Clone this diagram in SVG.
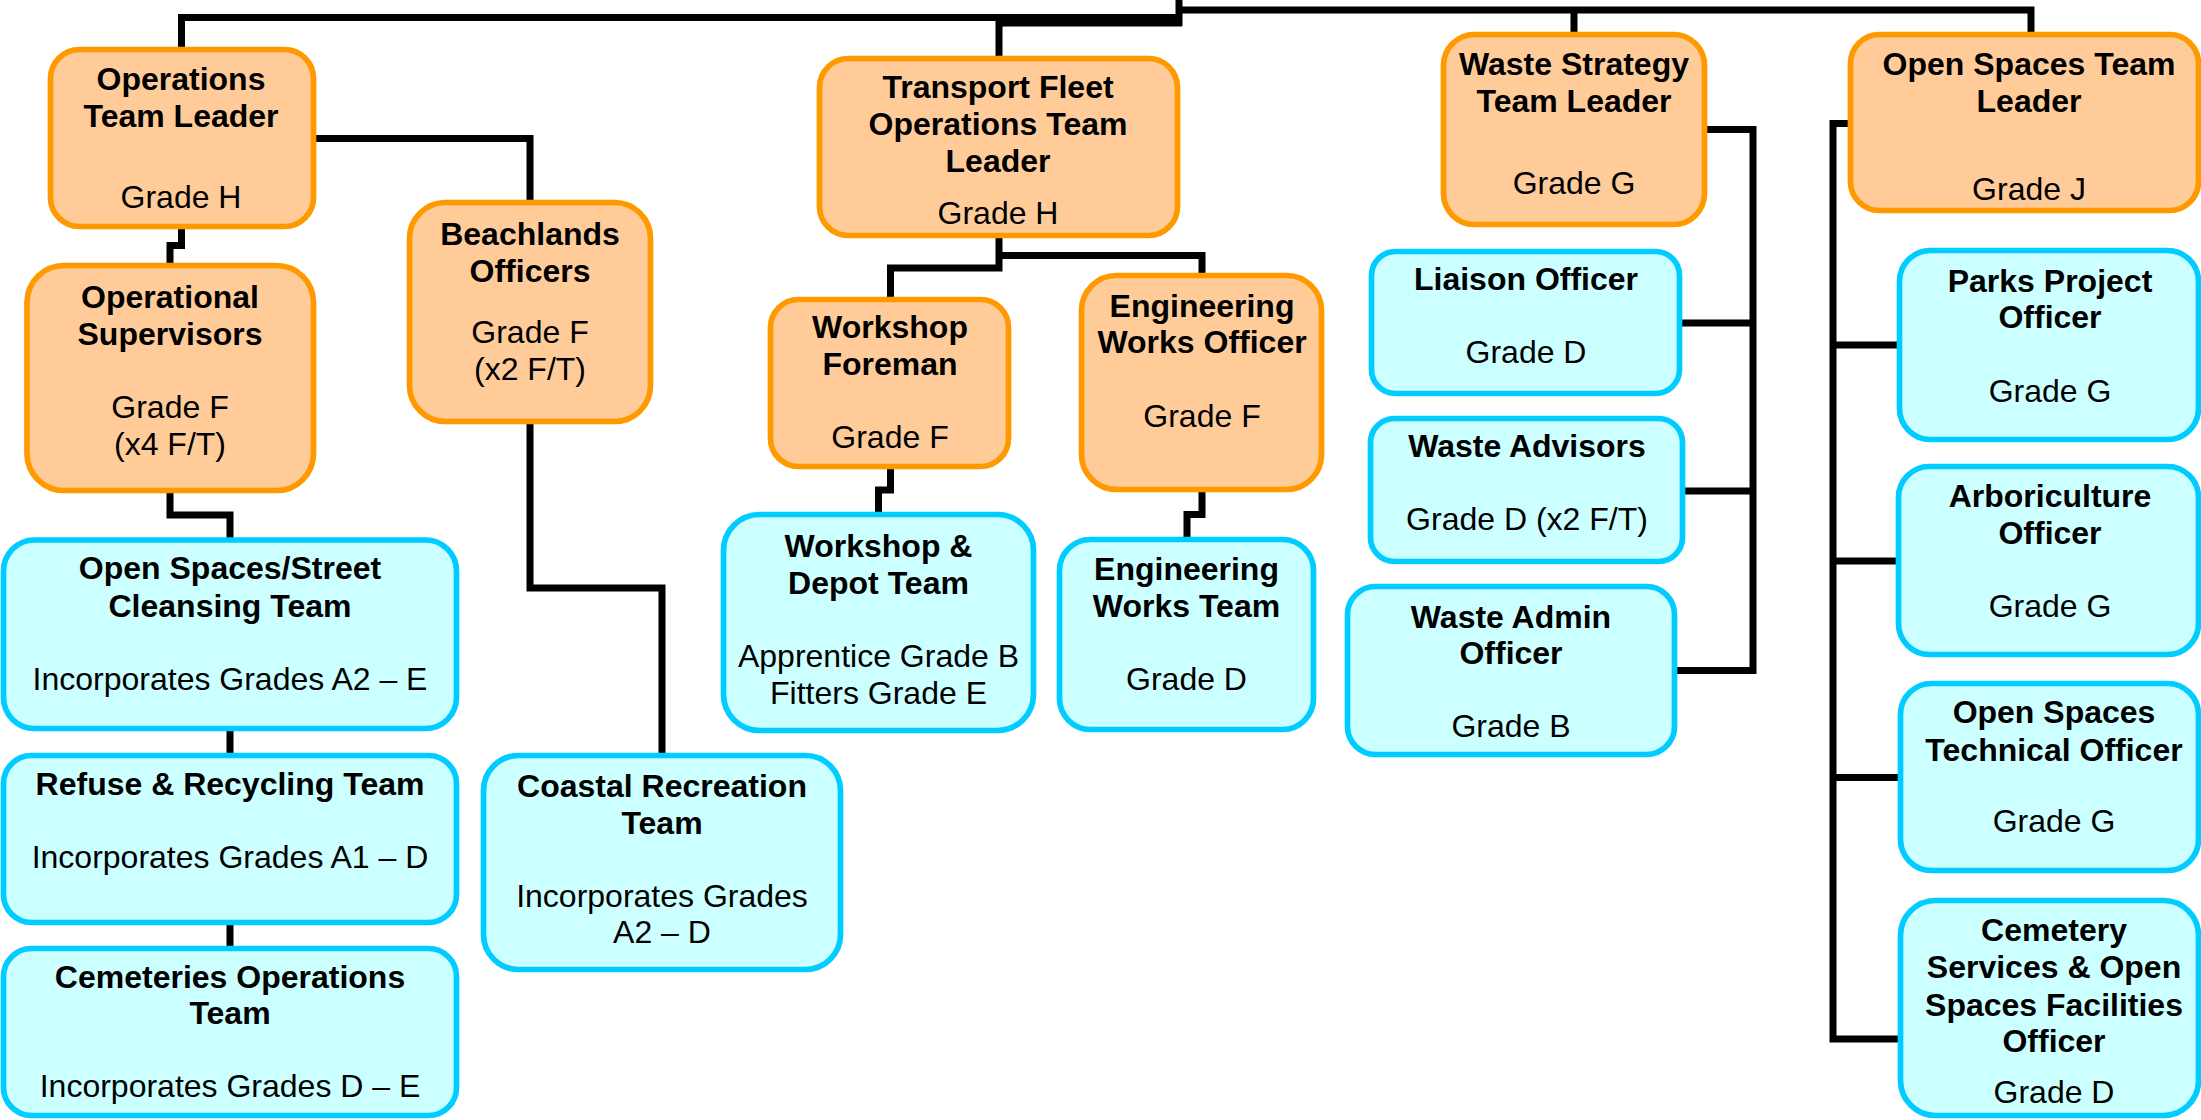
<svg xmlns="http://www.w3.org/2000/svg" width="2201" height="1120" viewBox="0 0 2201 1120">
<style>
.or{fill:#FFCC99;stroke:#FF9900;stroke-width:5.7}
.cy{fill:#CCFFFF;stroke:#00CCFF;stroke-width:5.7}
.t{font-family:"Liberation Sans",Arial,sans-serif;font-size:32px;fill:#000;text-anchor:middle}
.b{font-weight:bold}
.c{fill:none;stroke:#000;stroke-width:7;stroke-linejoin:miter;stroke-linecap:butt}
</style>
<rect width="2201" height="1120" fill="#fff"/>
<g id="connectors" class="c">
<path d="M1179,0 V26"/>
<path d="M181.5,50 V17.5 H1182"/>
<path d="M999,57 V23 H1182"/>
<path d="M1179,10 H2031 V33"/>
<path d="M1574,10 V33"/>
<path d="M315,138.5 H530 V201"/>
<path d="M181.5,228 V245.5 H170 V264"/>
<path d="M170,492 V515 H230 V538"/>
<path d="M230,730 V754"/>
<path d="M230,924 V947"/>
<path d="M530,423 V588 H662 V754"/>
<path d="M999,237 V268 H890.5 V298"/>
<path d="M999,255.5 H1202 V274"/>
<path d="M890.5,468 V490 H878.5 V513"/>
<path d="M1202,491 V514.5 H1187 V538"/>
<path d="M1706,129.5 H1753 V670.5 H1676"/>
<path d="M1681,323 H1753"/>
<path d="M1684,491 H1753"/>
<path d="M1849,123.5 H1833 V1039 H1899"/>
<path d="M1833,345 H1898"/>
<path d="M1833,561 H1897"/>
<path d="M1833,777.5 H1899"/>
</g>
<g id="ops-team-leader">
<rect class="or" x="50.5" y="49.5" width="263" height="177" rx="29"/>
<text class="t b" x="181" y="90">Operations</text>
<text class="t b" x="181" y="127">Team Leader</text>
<text class="t" x="181" y="208">Grade H</text>
</g>
<g id="operational-supervisors">
<rect class="or" x="27" y="265.5" width="286.5" height="225" rx="37"/>
<text class="t b" x="170" y="308">Operational</text>
<text class="t b" x="170" y="345">Supervisors</text>
<text class="t" x="170" y="418">Grade F</text>
<text class="t" x="170" y="455">(x4 F/T)</text>
</g>
<g id="beachlands-officers">
<rect class="or" x="409.5" y="202.5" width="241" height="219" rx="36"/>
<text class="t b" x="530" y="245">Beachlands</text>
<text class="t b" x="530" y="282">Officers</text>
<text class="t" x="530" y="343">Grade F</text>
<text class="t" x="530" y="380">(x2 F/T)</text>
</g>
<g id="open-spaces-street">
<rect class="cy" x="3.5" y="540" width="453" height="188.5" rx="31"/>
<text class="t b" x="230" y="579">Open Spaces/Street</text>
<text class="t b" x="230" y="617">Cleansing Team</text>
<text class="t" x="230" y="690">Incorporates Grades A2 – E</text>
</g>
<g id="refuse-recycling">
<rect class="cy" x="3.5" y="755.5" width="453" height="167" rx="28"/>
<text class="t b" x="230" y="795">Refuse &amp; Recycling Team</text>
<text class="t" x="230" y="868">Incorporates Grades A1 – D</text>
</g>
<g id="cemeteries-operations">
<rect class="cy" x="3.5" y="948.5" width="453" height="167" rx="28"/>
<text class="t b" x="230" y="988">Cemeteries Operations</text>
<text class="t b" x="230" y="1024">Team</text>
<text class="t" x="230" y="1097">Incorporates Grades D – E</text>
</g>
<g id="coastal-recreation">
<rect class="cy" x="483.5" y="755.5" width="357" height="214" rx="35"/>
<text class="t b" x="662" y="797">Coastal Recreation</text>
<text class="t b" x="662" y="834">Team</text>
<text class="t" x="662" y="907">Incorporates Grades</text>
<text class="t" x="662" y="943">A2 – D</text>
</g>
<g id="transport-fleet">
<rect class="or" x="819.5" y="58.5" width="358" height="177" rx="29"/>
<text class="t b" x="998" y="98">Transport Fleet</text>
<text class="t b" x="998" y="135">Operations Team</text>
<text class="t b" x="998" y="172">Leader</text>
<text class="t" x="998" y="224">Grade H</text>
</g>
<g id="workshop-foreman">
<rect class="or" x="770.5" y="299.5" width="238" height="167" rx="28"/>
<text class="t b" x="890" y="338">Workshop</text>
<text class="t b" x="890" y="375">Foreman</text>
<text class="t" x="890" y="448">Grade F</text>
</g>
<g id="engineering-works-officer">
<rect class="or" x="1081.5" y="275.5" width="240" height="214" rx="35"/>
<text class="t b" x="1202" y="317">Engineering</text>
<text class="t b" x="1202" y="353">Works Officer</text>
<text class="t" x="1202" y="427">Grade F</text>
</g>
<g id="workshop-depot-team">
<rect class="cy" x="723.5" y="514.5" width="310" height="216" rx="36"/>
<text class="t b" x="878.5" y="557">Workshop &amp;</text>
<text class="t b" x="878.5" y="594">Depot Team</text>
<text class="t" x="878.5" y="667">Apprentice Grade B</text>
<text class="t" x="878.5" y="704">Fitters Grade E</text>
</g>
<g id="engineering-works-team">
<rect class="cy" x="1059.5" y="539.5" width="254" height="190" rx="31"/>
<text class="t b" x="1186.5" y="580">Engineering</text>
<text class="t b" x="1186.5" y="617">Works Team</text>
<text class="t" x="1186.5" y="690">Grade D</text>
</g>
<g id="waste-strategy">
<rect class="or" x="1443.5" y="34.5" width="261" height="190" rx="31"/>
<text class="t b" x="1574" y="75">Waste Strategy</text>
<text class="t b" x="1574" y="112">Team Leader</text>
<text class="t" x="1574" y="194">Grade G</text>
</g>
<g id="liaison-officer">
<rect class="cy" x="1371.5" y="251.5" width="308" height="142" rx="24"/>
<text class="t b" x="1526" y="290">Liaison Officer</text>
<text class="t" x="1526" y="363">Grade D</text>
</g>
<g id="waste-advisors">
<rect class="cy" x="1370.5" y="418.5" width="312" height="143" rx="24"/>
<text class="t b" x="1527" y="457">Waste Advisors</text>
<text class="t" x="1527" y="530">Grade D (x2 F/T)</text>
</g>
<g id="waste-admin-officer">
<rect class="cy" x="1347.5" y="586.5" width="327" height="168" rx="28"/>
<text class="t b" x="1511" y="628">Waste Admin</text>
<text class="t b" x="1511" y="664">Officer</text>
<text class="t" x="1511" y="737">Grade B</text>
</g>
<g id="open-spaces-team-leader">
<rect class="or" x="1850.5" y="34.5" width="348" height="176" rx="29"/>
<text class="t b" x="2029" y="75">Open Spaces Team</text>
<text class="t b" x="2029" y="112">Leader</text>
<text class="t" x="2029" y="200">Grade J</text>
</g>
<g id="parks-project-officer">
<rect class="cy" x="1899.5" y="250.5" width="299" height="189" rx="31"/>
<text class="t b" x="2050" y="292">Parks Project</text>
<text class="t b" x="2050" y="328">Officer</text>
<text class="t" x="2050" y="402">Grade G</text>
</g>
<g id="arboriculture-officer">
<rect class="cy" x="1898.5" y="466.5" width="300" height="188" rx="31"/>
<text class="t b" x="2050" y="507">Arboriculture</text>
<text class="t b" x="2050" y="544">Officer</text>
<text class="t" x="2050" y="617">Grade G</text>
</g>
<g id="open-spaces-technical-officer">
<rect class="cy" x="1900.5" y="683.5" width="298" height="187" rx="31"/>
<text class="t b" x="2054" y="723">Open Spaces</text>
<text class="t b" x="2054" y="761">Technical Officer</text>
<text class="t" x="2054" y="832">Grade G</text>
</g>
<g id="cemetery-services-officer">
<rect class="cy" x="1900.5" y="900.5" width="298" height="215" rx="35"/>
<text class="t b" x="2054" y="941">Cemetery</text>
<text class="t b" x="2054" y="978">Services &amp; Open</text>
<text class="t b" x="2054" y="1016">Spaces Facilities</text>
<text class="t b" x="2054" y="1052">Officer</text>
<text class="t" x="2054" y="1103">Grade D</text>
</g>
</svg>
